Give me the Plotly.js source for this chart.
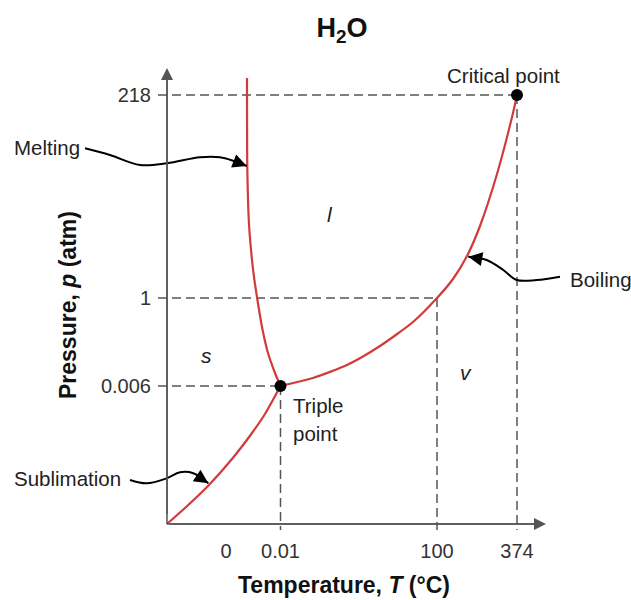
<!DOCTYPE html>
<html>
<head>
<meta charset="utf-8">
<script src="https://cdn.plot.ly/plotly-3.0.1.min.js"></script>
<style>html,body{margin:0;padding:0;background:#fff;}#chart{width:631px;height:600px;}</style>
</head>
<body>
<div id="chart"></div>
<script>
// ---- Data (schematic phase diagram of water; positions are on a schematic, non-linear scale) ----
const tempLabels = ['0', '0.01', '100', '374'];           // °C tick labels
const tempPos    = [59, 113.5, 270, 350];                 // schematic x positions
const presLabels = ['0.006', '1', '218'];                 // atm tick labels
const presPos    = [138, 226, 429];                       // schematic y positions

// phase-boundary curves (schematic coordinates)
const sublimX = [0, 18, 41, 65, 85, 98, 113.5];
const sublimY = [0, 16, 38, 65, 91, 110, 138];
const meltX   = [113.5, 108, 101, 95, 90, 87, 85, 82, 80.3, 80];
const meltY   = [138, 151, 171, 197, 227, 247, 264, 300, 357, 446];
const boilX   = [113.5, 146, 180, 213, 246, 270, 286, 300, 313, 330, 346, 350];
const boilY   = [138, 146, 159, 178, 202, 226, 245, 268, 298, 350, 411, 429];

// special points: triple point and critical point
const pointNames = ['Triple point', 'Critical point'];
const pointX = [tempPos[1], tempPos[3]];
const pointY = [presPos[0], presPos[2]];

// leader arrows for the curve names (overlay coordinates, same scale)
const meltLeadX = [-82, -57, -27, 0, 33, 53, 66, 79.7];
const meltLeadY = [375.7, 369, 359, 360.7, 366.7, 366.7, 363.3, 358];
const boilLeadX = [393, 369.7, 349.7, 336.3, 319.7, 301.3];
const boilLeadY = [247.3, 244, 244, 254, 264, 267.3];
const subLeadX  = [-37, -20.3, -0.3, 13, 26.3, 41.3];
const subLeadY  = [44, 40.7, 45.7, 51.7, 50.7, 40.7];

// ---- Figure ----
const W = 631, H = 600;
const FONT = 'Liberation Sans, Arial, sans-serif';
const RED = '#d23b3b';
const AX = '#555555';
const DASH = '9px,5px';

const traces = [];

// dashed guide lines from ticks to the special points
const guideX = [tempPos[1], tempPos[2], tempPos[3]];
const guideY = [presPos[0], presPos[1], presPos[2]];
for (let i = 0; i < guideX.length; i++) {
  traces.push({x: [-9, guideX[i]], y: [guideY[i], guideY[i]], mode: 'lines', xaxis: 'x', yaxis: 'y',
    line: {color: AX, width: 1.5, dash: DASH}, hoverinfo: 'skip', showlegend: false});
  traces.push({x: [guideX[i], guideX[i]], y: [guideY[i], -6], mode: 'lines', xaxis: 'x', yaxis: 'y',
    line: {color: AX, width: 1.5, dash: DASH}, hoverinfo: 'skip', showlegend: false});
}

// phase boundaries
[[sublimX, sublimY], [meltX, meltY], [boilX, boilY]].forEach(([xs, ys]) => {
  traces.push({x: xs, y: ys, mode: 'lines', xaxis: 'x', yaxis: 'y',
    line: {color: RED, width: 2.2, shape: 'spline', smoothing: 0.6}, hoverinfo: 'skip', showlegend: false});
});

// points
traces.push({x: pointX, y: pointY, text: pointNames, mode: 'markers', xaxis: 'x', yaxis: 'y',
  marker: {color: '#000', size: 12}, hoverinfo: 'skip', showlegend: false, cliponaxis: false});

// leaders on full-figure overlay axes
const leaders = [[meltLeadX, meltLeadY], [boilLeadX, boilLeadY], [subLeadX, subLeadY]];
leaders.forEach(([xs, ys]) => {
  traces.push({x: xs, y: ys, mode: 'lines', xaxis: 'x2', yaxis: 'y2',
    line: {color: '#000', width: 2, shape: 'spline', smoothing: 1}, hoverinfo: 'skip', showlegend: false});
});

const annotations = [];
// leader arrowheads, direction from last segment
leaders.forEach(([xs, ys]) => {
  const n = xs.length;
  const dx = xs[n-1] - xs[n-2], dy = ys[n-1] - ys[n-2];
  const len = Math.hypot(dx, dy);
  const L = 12;
  annotations.push({xref: 'x2', yref: 'y2', x: xs[n-1], y: ys[n-1], text: ' ', showarrow: true,
    ax: -dx / len * L, ay: dy / len * L, arrowhead: 2, arrowsize: 1.4, arrowwidth: 2, arrowcolor: '#000', standoff: 0});
});

// axis arrows
annotations.push({xref: 'x', yref: 'y', axref: 'x', ayref: 'y', x: 379, y: 0, ax: 0, ay: 0, text: ' ',
  showarrow: true, arrowhead: 2, arrowsize: 1.6, arrowwidth: 1.5, arrowcolor: AX, standoff: 0});
annotations.push({xref: 'x', yref: 'y', axref: 'x', ayref: 'y', x: 0, y: 456, ax: 0, ay: 0, text: ' ',
  showarrow: true, arrowhead: 2, arrowsize: 1.6, arrowwidth: 1.5, arrowcolor: AX, standoff: 0});

const LBL = 20.5;
const lab = (o) => Object.assign({showarrow: false, font: {family: FONT, size: LBL, color: '#222'}}, o);
// region labels
annotations.push(lab({xref: 'x', yref: 'y', x: 163, y: 309, text: '<i>l</i>', font: {family: FONT, size: 21, color: '#222'}}));
annotations.push(lab({xref: 'x', yref: 'y', x: 39, y: 169, text: '<i>s</i>', font: {family: FONT, size: 21, color: '#222'}}));
annotations.push(lab({xref: 'x', yref: 'y', x: 299, y: 152, text: '<i>v</i>', font: {family: FONT, size: 21, color: '#222'}}));
// point labels
annotations.push(lab({xref: 'x', yref: 'y', x: 336, y: 448, text: 'Critical point'}));
annotations.push(lab({xref: 'x', yref: 'y', x: 124, y: 119, text: 'Triple', xanchor: 'left'}));
annotations.push(lab({xref: 'x', yref: 'y', x: 124, y: 91, text: 'point', xanchor: 'left'}));
// curve names
annotations.push(lab({xref: 'x2', yref: 'y2', x: -155, y: 377, text: 'Melting', xanchor: 'left'}));
annotations.push(lab({xref: 'x2', yref: 'y2', x: 401, y: 245, text: 'Boiling', xanchor: 'left'}));
annotations.push(lab({xref: 'x2', yref: 'y2', x: -155, y: 46, text: 'Sublimation', xanchor: 'left'}));
// axis titles
annotations.push({xref: 'paper', yref: 'paper', x: 344 / W, y: 1 - 585 / H, xanchor: 'center', yanchor: 'middle',
  showarrow: false, text: '<b>Temperature, <i>T</i> (°C)</b>', font: {family: FONT, size: 23, color: '#111'}});
annotations.push({xref: 'paper', yref: 'paper', x: 68 / W, y: 1 - 305 / H, xanchor: 'center', yanchor: 'middle',
  showarrow: false, textangle: -90, text: '<b>Pressure, <i>p</i> (atm)</b>', font: {family: FONT, size: 23, color: '#111'}});

const layout = {
  width: W, height: H,
  margin: {l: 0, r: 0, t: 0, b: 0, pad: 0},
  paper_bgcolor: '#fff', plot_bgcolor: 'rgba(0,0,0,0)',
  showlegend: false,
  title: {text: '<b>H<sub>2</sub>O</b>', x: 342 / W, xanchor: 'center', y: 1 - 28 / H, yanchor: 'middle',
    font: {family: FONT, size: 27, color: '#111'}},
  xaxis: {domain: [157 / W, 547 / W], range: [-10, 380], anchor: 'y', showgrid: false, zeroline: false,
    showline: false, ticks: '', tickvals: tempPos, ticktext: tempLabels, ticklabelstandoff: 5,
    tickfont: {family: FONT, size: 20, color: '#333'}},
  yaxis: {domain: [68 / H, 532 / H], range: [-8, 456], anchor: 'x', showgrid: false, zeroline: false,
    showline: false, ticks: '', tickvals: presPos, ticktext: presLabels, ticklabelstandoff: 5,
    tickfont: {family: FONT, size: 20, color: '#333'}},
  xaxis2: {domain: [0, 1], range: [-167, 464], anchor: 'y2', visible: false},
  yaxis2: {domain: [0, 1], range: [-76, 524], anchor: 'x2', visible: false},
  shapes: [
    {type: 'line', xref: 'x', yref: 'y', x0: 0, y0: 0, x1: 372, y1: 0, line: {color: AX, width: 1.5}},
    {type: 'line', xref: 'x', yref: 'y', x0: 0, y0: 0, x1: 0, y1: 450, line: {color: AX, width: 1.5}}
  ],
  annotations: annotations
};

Plotly.newPlot('chart', traces, layout, {staticPlot: true, displayModeBar: false});
</script>
</body>
</html>
